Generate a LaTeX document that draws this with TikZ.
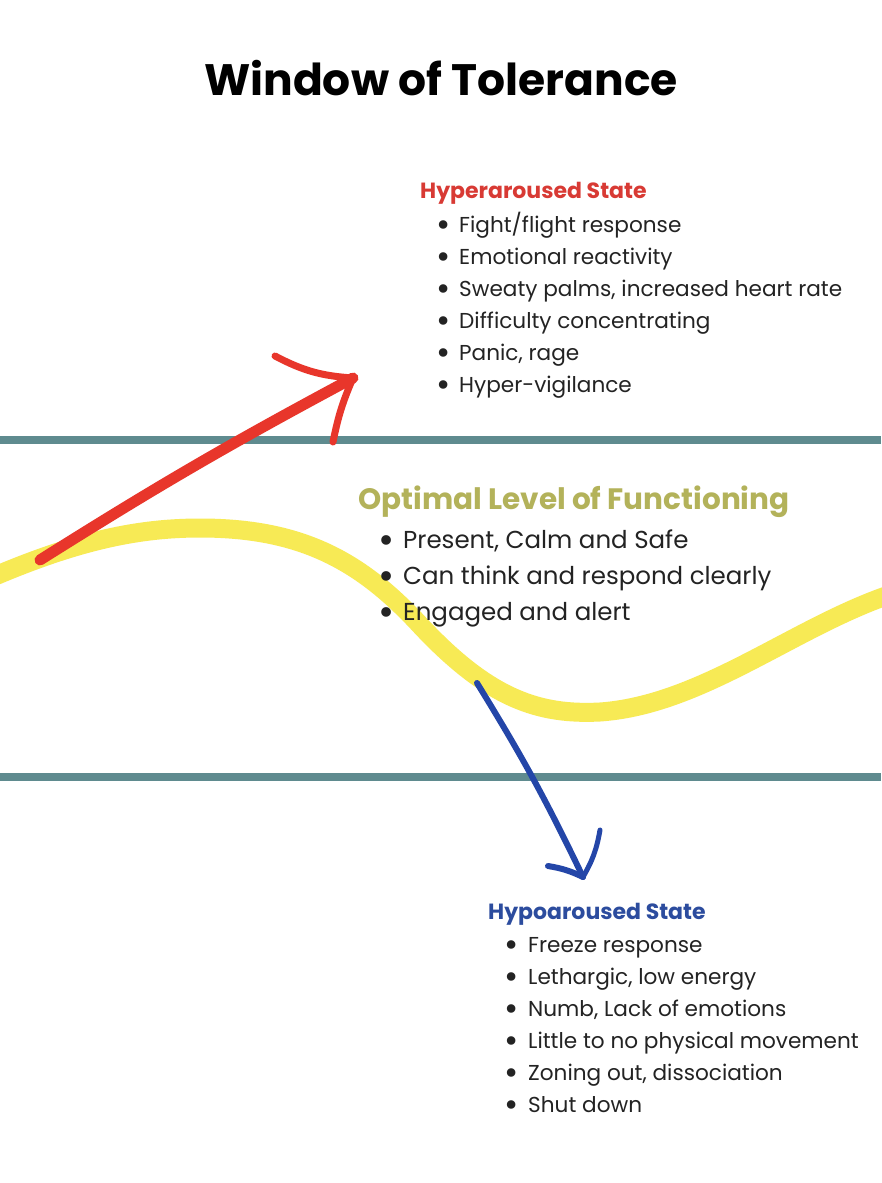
\documentclass[tikz,border=0pt]{standalone}
\usepackage{fontspec}
\setmainfont{Poppins}
\usetikzlibrary{positioning, calc}
\definecolor{bandteal}{HTML}{5F8B8F}
\definecolor{waveyellow}{HTML}{F7EA55}
\definecolor{hyperred}{HTML}{D83A34}
\definecolor{arrowred}{HTML}{E8362B}
\definecolor{optolive}{HTML}{B3B25A}
\definecolor{hypoblue}{HTML}{2C4C9E}
\definecolor{arrowblue}{HTML}{2446A8}
\definecolor{bodytext}{HTML}{232323}
\newcommand{\bigdot}{\raisebox{-0.42ex}{\scalebox{1.6}{\textbullet}}}

\begin{document}
\begin{tikzpicture}[
    % pixel-like units, y grows downwards
    x=1pt, y=-1pt,
    band/.style={draw=bandteal, line width=8pt},
    wave/.style={draw=waveyellow, line width=19pt},
    pen/.style={line width=#1, line cap=round, line join=round},
    title/.style={anchor=base, inner sep=0pt, font=\bfseries\fontsize{44}{52}\selectfont},
    head/.style={anchor=base west, inner sep=0pt, font=\bfseries\fontsize{22}{26}\selectfont},
    entry/.style={anchor=base west, inner sep=0pt, text=bodytext, font=\fontsize{21.6}{26}\selectfont}
]
    \useasboundingbox (0,0) rectangle (881,1183);
    \fill[white] (0,0) rectangle (881,1183);

    % --- TITLE ---
    \node (title) [title] at (441,95) {Window of Tolerance};

    % --- BANDS ---
    \coordinate (topL) at (0,440);
    \coordinate (topR) at (881,440);
    \coordinate (botL) at (0,777);
    \coordinate (botR) at (881,777);
    \draw[band] (topL) -- (topR);
    \draw[band] (botL) -- (botR);

    % --- WAVE ---
    \coordinate (waveL) at (-5,576);
    \coordinate (waveR) at (886,596);
    \draw[wave] (waveL) .. controls (80,540) and (140,528) .. (200,528)
        .. controls (300,528) and (360,560) .. (420,625)
        .. controls (490,700) and (540,715) .. (600,712)
        .. controls (700,705) and (790,630) .. (waveR);

    % --- HYPER ARROW ---
    \coordinate (redstart) at (40,560);
    \coordinate (redtip) at (353,378);
    \coordinate (redarmA) at (275,356);
    \coordinate (redarmB) at (333,442);
    \draw[pen=11pt, arrowred] (redstart) to[bend left=2] (redtip);
    \draw[pen=7pt, arrowred] (redarmA) to[bend right=12] (redtip);
    \draw[pen=7pt, arrowred] (redtip) to[bend right=6] (redarmB);

    % --- HYPO ARROW ---
    \coordinate (bluestart) at (477,683);
    \coordinate (bluetip) at (583,877);
    \coordinate (bluearmA) at (548,866);
    \coordinate (bluearmB) at (600,830);
    \draw[pen=6pt, arrowblue] (bluestart) to[bend left=3] (bluetip);
    \draw[pen=6pt, arrowblue] (bluearmA) to[bend left=8] (bluetip);
    \draw[pen=5pt, arrowblue] (bluetip) to[bend right=10] (bluearmB);

    % --- HYPERAROUSED ---
    \node (hyper) [head, text=hyperred] at (420,198) {Hyperaroused State};
    \foreach \txt [count=\i] in {Fight/flight response, Emotional reactivity,
        {Sweaty palms, increased heart rate}, Difficulty concentrating,
        {Panic, rage}, Hyper-vigilance}
        \node (hyper-\i) [entry] at (436,{200+32*\i}) {\makebox[23pt][l]{\bigdot}\txt};

    % --- OPTIMAL ---
    \node (optimal) [head, text=optolive, font=\bfseries\fontsize{29.5}{34}\selectfont] at (358,509) {Optimal Level of Functioning};
    \foreach \txt [count=\i] in {{Present, Calm and Safe}, Can think and respond clearly,
        Engaged and alert}
        \node (opt-\i) [entry, font=\fontsize{24.5}{29}\selectfont] at (378,{512+36*\i}) {\makebox[25pt][l]{\bigdot}\txt};

    % --- HYPOAROUSED ---
    \node (hypo) [head, text=hypoblue] at (488,919) {Hypoaroused State};
    \foreach \txt [count=\i] in {Freeze response, {Lethargic, low energy},
        {Numb, Lack of emotions}, Little to no physical movement,
        {Zoning out, dissociation}, Shut down}
        \node (hypo-\i) [entry] at (504,{920+32*\i}) {\makebox[24pt][l]{\bigdot}\txt};

\end{tikzpicture}
\end{document}
